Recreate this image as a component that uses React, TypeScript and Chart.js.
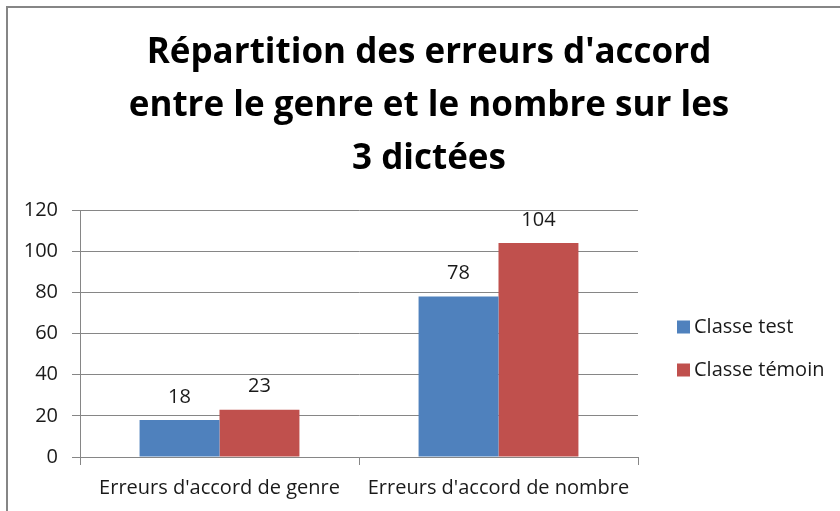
import React, { useEffect, useRef } from "react";
import { Chart, registerables } from "chart.js";

Chart.register(...registerables);

const categories = ["Erreurs d'accord de genre", "Erreurs d'accord de nombre"];
const seriesNames = ["Classe test", "Classe témoin"];
const classeTest = [18, 78];
const classeTemoin = [23, 104];
const seriesColors = ["#4F81BD", "#C0504D"];
const titleLines = ["Répartition des erreurs d'accord", "entre le genre et le nombre sur les", "3 dictées"];
const yMin = 0;
const yMax = 120;
const yStep = 20;

const FONT = "'Open Sans', sans-serif";
const TEXT = "#1a1a1a";

const valueLabels = {
  id: "valueLabels",
  afterDatasetsDraw(chart: any) {
    const ctx = chart.ctx;
    ctx.save();
    ctx.font = `20px ${FONT}`;
    ctx.fillStyle = TEXT;
    ctx.textAlign = "center";
    ctx.textBaseline = "middle";
    chart.data.datasets.forEach((ds: any, i: number) => {
      const meta = chart.getDatasetMeta(i);
      meta.data.forEach((bar: any, j: number) => {
        ctx.fillText(String(ds.data[j]), bar.x, bar.y - 23);
      });
    });
    ctx.restore();
  },
};

const sideLegend = {
  id: "sideLegend",
  afterDraw(chart: any) {
    const ctx = chart.ctx;
    const area = chart.chartArea;
    ctx.save();
    ctx.font = `20px ${FONT}`;
    ctx.textAlign = "left";
    ctx.textBaseline = "middle";
    chart.data.datasets.forEach((ds: any, i: number) => {
      const cy = area.top + 117 + i * 43;
      const bx = area.right + 39;
      ctx.fillStyle = ds.backgroundColor;
      ctx.fillRect(bx, cy - 6.5, 13, 13);
      ctx.fillStyle = TEXT;
      ctx.fillText(ds.label, bx + 17, cy);
    });
    ctx.restore();
  },
};

export default function App() {
  const ref = useRef<HTMLCanvasElement>(null);
  useEffect(() => {
    const chart = new Chart(ref.current!, {
      type: "bar",
      data: {
        labels: categories,
        datasets: [
          { label: seriesNames[0], data: classeTest, backgroundColor: seriesColors[0] },
          { label: seriesNames[1], data: classeTemoin, backgroundColor: seriesColors[1] },
        ],
      },
      options: {
        animation: false,
        responsive: false,
        devicePixelRatio: 1,
        layout: { padding: { top: 26, left: 18, right: 0, bottom: 0 } },
        datasets: { bar: { categoryPercentage: 0.573, barPercentage: 1 } } as any,
        plugins: {
          title: {
            display: true,
            text: titleLines,
            font: { family: FONT, size: 35, weight: "bold", lineHeight: 1.52 },
            color: "#000",
            padding: { top: 0, bottom: 24.4 },
          },
          legend: { display: false },
          tooltip: { enabled: false },
        },
        scales: {
          x: {
            offset: true,
            grid: {
              offset: true,
              drawOnChartArea: false,
              drawTicks: true,
              tickLength: 8,
              color: "#868686",
            },
            border: { color: "#868686" },
            ticks: { color: TEXT, font: { family: FONT, size: 20 }, padding: 11 },
            afterFit: (s: any) => { s.height = 54; },
          },
          y: {
            min: yMin,
            max: yMax,
            ticks: { stepSize: yStep, color: TEXT, font: { family: FONT, size: 20 }, padding: 14 },
            grid: { color: "#868686", tickLength: 8 },
            border: { color: "#868686" },
            afterFit: (s: any) => { s.width = 62; },
          },
          legendSpace: {
            type: "linear",
            position: "right",
            display: true,
            grid: { display: false, drawTicks: false },
            border: { display: false },
            ticks: { display: false },
            afterFit: (s: any) => { s.width = 202; },
          } as any,
        },
      },
      plugins: [valueLabels, sideLegend],
    });
    return () => chart.destroy();
  }, []);
  return (
    <div style={{ position: "fixed", left: 0, top: 0, width: 840, height: 511, background: "#fff", overflow: "hidden" }}>
      <div style={{ position: "absolute", left: 6, top: 6, width: 900, height: 600, border: "2px solid #868686", boxSizing: "border-box" }} />
      <canvas ref={ref} width={840} height={511} style={{ position: "absolute", left: 0, top: 0 }} />
    </div>
  );
}
